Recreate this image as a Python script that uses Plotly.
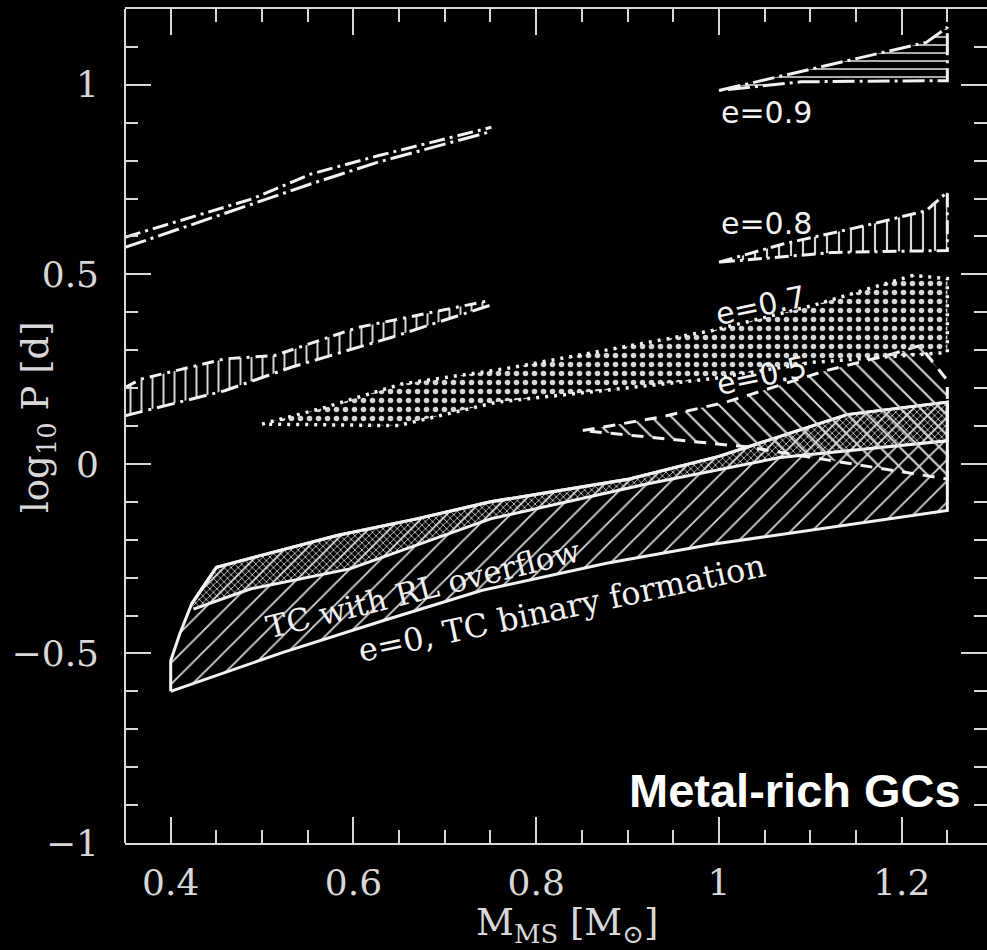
import plotly.graph_objects as go

# ---------------- data ----------------
# e=0, TC binary formation: lower boundary and left edge
tc_lower_x = [0.40, 0.523, 0.633, 0.74, 0.877, 0.993, 1.25]
tc_lower_y = [-0.600, -0.497, -0.413, -0.334, -0.262, -0.212, -0.123]
tc_left_x = [0.423, 0.41, 0.40, 0.40]
tc_left_y = [-0.369, -0.448, -0.519, -0.600]
# TC with RL overflow band
rl_top_x = [0.423, 0.45, 0.498, 0.582, 0.669, 0.75, 0.902, 1.0, 1.14, 1.25]
rl_top_y = [-0.369, -0.273, -0.242, -0.189, -0.145, -0.100, -0.040, 0.020, 0.130, 0.163]
rl_bot_x = [0.425, 0.487, 0.596, 0.75, 0.921, 1.067, 1.25]
rl_bot_y = [-0.383, -0.330, -0.277, -0.145, -0.053, 0.017, 0.061]

# e=0.5
e05_up_x = [0.851, 0.935, 1.008, 1.117, 1.19, 1.22, 1.25]
e05_up_y = [0.088, 0.123, 0.163, 0.246, 0.290, 0.312, 0.220]
e05_lo_x = [0.851, 1.03, 1.12, 1.25]
e05_lo_y = [0.088, 0.045, 0.010, -0.040]

# e=0.7
e07_up_x = [0.50, 0.569, 0.653, 0.766, 0.993, 1.103, 1.212, 1.25]
e07_up_y = [0.105, 0.149, 0.211, 0.251, 0.352, 0.418, 0.497, 0.489]
e07_lo_x = [0.50, 0.649, 0.757, 0.993, 1.103, 1.25]
e07_lo_y = [0.105, 0.101, 0.163, 0.225, 0.268, 0.294]

# e=0.8 (right)
e08_up_x = [1.0, 1.07, 1.161, 1.227, 1.25]
e08_up_y = [0.532, 0.580, 0.629, 0.668, 0.717]
e08_lo_x = [1.0, 1.126, 1.25]
e08_lo_y = [0.532, 0.558, 0.563]

# e=0.9 (right)
e09_up_x = [1.0, 1.126, 1.227, 1.25]
e09_up_y = [0.985, 1.055, 1.112, 1.152]
e09_lo_x = [1.0, 1.09, 1.25]
e09_lo_y = [0.985, 1.008, 1.011]

# left bands
bandA_up_x = [0.35, 0.489, 0.554, 0.627, 0.751]
bandA_up_y = [0.598, 0.699, 0.765, 0.813, 0.888]
bandA_lo_x = [0.35, 0.496, 0.554, 0.627, 0.748]
bandA_lo_y = [0.571, 0.690, 0.739, 0.796, 0.875]

bandB_up_x = [0.35, 0.368, 0.459, 0.514, 0.605, 0.715, 0.749]
bandB_up_y = [0.202, 0.224, 0.277, 0.286, 0.360, 0.413, 0.431]
bandB_lo_x = [0.35, 0.459, 0.532, 0.642, 0.749]
bandB_lo_y = [0.127, 0.193, 0.255, 0.334, 0.418]

x_tickvals = [0.4, 0.6, 0.8, 1.0, 1.2]
x_ticktext = ["0.4", "0.6", "0.8", "1", "1.2"]
y_tickvals = [-1, -0.5, 0, 0.5, 1]
y_ticktext = ["\u22121", "\u22120.5", "0", "0.5", "1"]

# ---------------- figure ----------------
LINE = "#f2f2f2"
PAT = "#d6d6d6"
AXC = "#d8d8d8"

fig = go.Figure()


def region(xs, ys, shape, size, solidity, dash="solid", width=3, lcolor=LINE):
    fig.add_trace(go.Scatter(
        x=xs, y=ys, mode="lines", fill="toself",
        fillcolor="rgba(0,0,0,0)",
        fillpattern=dict(shape=shape, size=size, solidity=solidity,
                         fgcolor=PAT, bgcolor="rgba(0,0,0,0)", fillmode="replace"),
        line=dict(color=lcolor, width=width, dash=dash),
        hoverinfo="skip", showlegend=False))


def line(xs, ys, dash, width=3):
    fig.add_trace(go.Scatter(x=xs, y=ys, mode="lines",
                             line=dict(color=LINE, width=width, dash=dash),
                             hoverinfo="skip", showlegend=False))


# e=0 outer region (diagonal hatch)
outer_x = tc_lower_x + [1.25] + rl_top_x[::-1][:-1] + tc_left_x
outer_y = tc_lower_y + [rl_top_y[-1]] + rl_top_y[::-1][:-1] + tc_left_y
region(outer_x, outer_y, "/", 15, 0.12, width=3)

# RL overflow band (dense cross hatch)
rl_x = rl_top_x + rl_bot_x[::-1]
rl_y = rl_top_y + rl_bot_y[::-1]
region(rl_x, rl_y, "x", 5, 0.3, width=3)

# e=0.5
e05_x = e05_up_x + e05_lo_x[::-1]
e05_y = e05_up_y + e05_lo_y[::-1]
region(e05_x, e05_y, "\\", 14, 0.15, dash="12px,9px", width=3)

# e=0.7
e07_x = e07_up_x + e07_lo_x[::-1]
e07_y = e07_up_y + e07_lo_y[::-1]
region(e07_x, e07_y, ".", 9, 0.3, dash="3px,6px", width=3.5)

# e=0.8
e08_x = e08_up_x + e08_lo_x[::-1]
e08_y = e08_up_y + e08_lo_y[::-1]
region(e08_x, e08_y, "|", 12, 0.18, dash="14px,5px,3px,5px", width=3)

# e=0.9
e09_x = e09_up_x + e09_lo_x[::-1]
e09_y = e09_up_y + e09_lo_y[::-1]
region(e09_x, e09_y, "-", 8, 0.2, dash="22px,5px,3px,5px", width=3)

# left band B (vertical hatch)
bb_x = bandB_up_x + bandB_lo_x[::-1]
bb_y = bandB_up_y + bandB_lo_y[::-1]
fig.add_trace(go.Scatter(
    x=bb_x, y=bb_y, mode="lines", fill="toself", fillcolor="rgba(0,0,0,0)",
    fillpattern=dict(shape="|", size=11, solidity=0.18, fgcolor=PAT,
                     bgcolor="rgba(0,0,0,0)", fillmode="replace"),
    line=dict(width=0, color="rgba(0,0,0,0)"), hoverinfo="skip", showlegend=False))
line(bandB_up_x, bandB_up_y, "12px,6px,3px,6px")
line(bandB_lo_x, bandB_lo_y, "18px,6px,3px,6px")

# left band A
line(bandA_up_x, bandA_up_y, "16px,5px,3px,5px")
line(bandA_lo_x, bandA_lo_y, "22px,5px,3px,5px")

# ---------------- annotations ----------------
SANS = "DejaVu Sans"
SERIF = "DejaVu Serif"


def note(**kw):
    base = dict(showarrow=False, xanchor="center", yanchor="middle")
    base.update(kw)
    return base


ann = [
    note(x=1.0, y=0.927, text="e=0.9", xanchor="left",
         font=dict(family=SANS, size=30, color=LINE)),
    note(x=1.0, y=0.634, text="e=0.8", xanchor="left",
         font=dict(family=SANS, size=30, color=LINE)),
    note(x=1.045, y=0.418, text="e=0.7", textangle=-12,
         font=dict(family=SANS, size=30, color=LINE)),
    note(x=1.047, y=0.233, text="e=0.5", textangle=-12,
         font=dict(family=SANS, size=30, color=LINE)),
    note(x=0.676, y=-0.330, text="TC with RL overflow", textangle=-14,
         font=dict(family=SERIF, size=31, color=LINE)),
    note(x=0.828, y=-0.379, text="e=0, TC binary formation", textangle=-12,
         font=dict(family=SERIF, size=32, color=LINE)),
    note(xref="paper", yref="paper", x=0.7773, y=0.0635,
         text="<b>Metal-rich GCs</b>",
         font=dict(family="Liberation Sans", size=47, color="white")),
    note(xref="paper", yref="paper", x=-0.1009, y=0.5108,
         text="log<sub>10</sub> P [d]", textangle=-90,
         font=dict(family=SERIF, size=37, color=AXC)),
    note(xref="paper", yref="paper", x=0.5128, y=-0.0983,
         text="M<sub>MS</sub> [M<sub>\u2299</sub>]",
         font=dict(family=SERIF, size=37, color=AXC)),
]

fig.update_layout(
    width=987, height=950,
    margin=dict(l=125, r=0, t=9, b=107),
    paper_bgcolor="black", plot_bgcolor="black",
    annotations=ann,
    shapes=[dict(type="line", xref="paper", yref="paper", x0=0, x1=0, y0=0, y1=1,
                 line=dict(color=AXC, width=2))],
    showlegend=False,
)

fig.update_xaxes(
    range=[0.35, 1.2934], showgrid=False, zeroline=False,
    showline=True, linecolor=AXC, linewidth=2, mirror="ticks",
    tickmode="array", tickvals=x_tickvals, ticktext=x_ticktext,
    ticks="inside", ticklen=26, tickwidth=2, tickcolor=AXC,
    tickfont=dict(family=SERIF, size=36, color=AXC),
    ticklabelstandoff=7,
    minor=dict(tickmode="linear", tick0=0.35, dtick=0.05, ticks="inside",
               ticklen=13, tickwidth=2, tickcolor=AXC),
)
fig.update_yaxes(
    range=[-1, 1.2], showgrid=False, zeroline=False,
    showline=False, mirror="ticks",
    tickmode="array", tickvals=y_tickvals, ticktext=y_ticktext,
    ticks="inside", ticklen=26, tickwidth=2, tickcolor=AXC,
    tickfont=dict(family=SERIF, size=36, color=AXC),
    ticklabelstandoff=25,
    minor=dict(tickmode="linear", tick0=0, dtick=0.1, ticks="inside",
               ticklen=13, tickwidth=2, tickcolor=AXC),
)

fig.write_html("out.html")
